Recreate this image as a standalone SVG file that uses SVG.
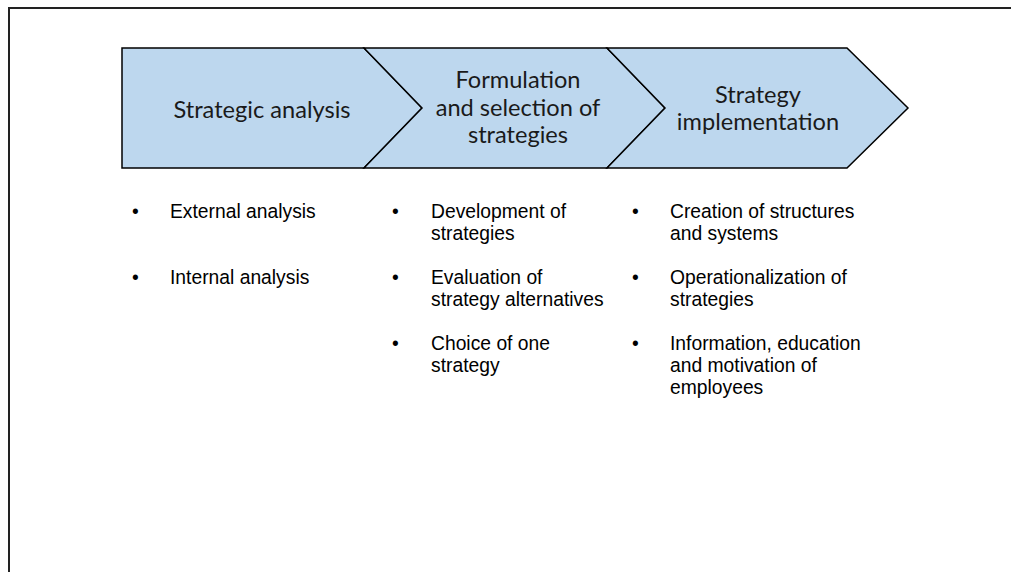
<svg xmlns="http://www.w3.org/2000/svg" width="1011" height="572" viewBox="0 0 1011 572">
<style>
.frame{fill:none;stroke:#222;stroke-width:2}
.chev{fill:#BDD7EE;stroke:#000;stroke-width:1.5;stroke-linejoin:miter}
.head{font-family:Lato,"Open Sans",sans-serif;font-size:23.6px;fill:#1a1a1a;text-anchor:middle}
.item{font-family:"Liberation Sans",Arial,sans-serif;font-size:19.3px;fill:#000}
</style>
<rect width="1011" height="572" fill="#fff"/>
<path class="frame" d="M9,572 L9,8 L1011,8"/>
<g id="stage1">
<path class="chev" d="M122,48 L364,48 L422,108 L364,168 L122,168 Z"/>
<text class="head" x="262" y="118">Strategic analysis</text>
</g>
<g id="stage2">
<path class="chev" d="M364,48 L607,48 L665,108 L607,168 L364,168 L422,108 Z"/>
<text class="head" x="518" y="88">Formulation</text>
<text class="head" x="518" y="116">and selection of</text>
<text class="head" x="518" y="143">strategies</text>
</g>
<g id="stage3">
<path class="chev" d="M607,48 L847,48 L908,108 L847,168 L607,168 L665,108 Z"/>
<text class="head" x="758" y="103">Strategy</text>
<text class="head" x="758" y="130">implementation</text>
</g>
<g id="list1">
<text class="item" x="132" y="218">•</text><text class="item" x="170" y="218">External analysis</text>
<text class="item" x="132" y="284">•</text><text class="item" x="170" y="284">Internal analysis</text>
</g>
<g id="list2">
<text class="item" x="392" y="218">•</text><text class="item" x="431" y="218">Development of</text>
<text class="item" x="431" y="240">strategies</text>
<text class="item" x="392" y="284">•</text><text class="item" x="431" y="284">Evaluation of</text>
<text class="item" x="431" y="306">strategy alternatives</text>
<text class="item" x="392" y="350">•</text><text class="item" x="431" y="350">Choice of one</text>
<text class="item" x="431" y="372">strategy</text>
</g>
<g id="list3">
<text class="item" x="632" y="218">•</text><text class="item" x="670" y="218">Creation of structures</text>
<text class="item" x="670" y="240">and systems</text>
<text class="item" x="632" y="284">•</text><text class="item" x="670" y="284">Operationalization of</text>
<text class="item" x="670" y="306">strategies</text>
<text class="item" x="632" y="350">•</text><text class="item" x="670" y="350">Information, education</text>
<text class="item" x="670" y="372">and motivation of</text>
<text class="item" x="670" y="394">employees</text>
</g>
<g id="connectors"></g>
</svg>
